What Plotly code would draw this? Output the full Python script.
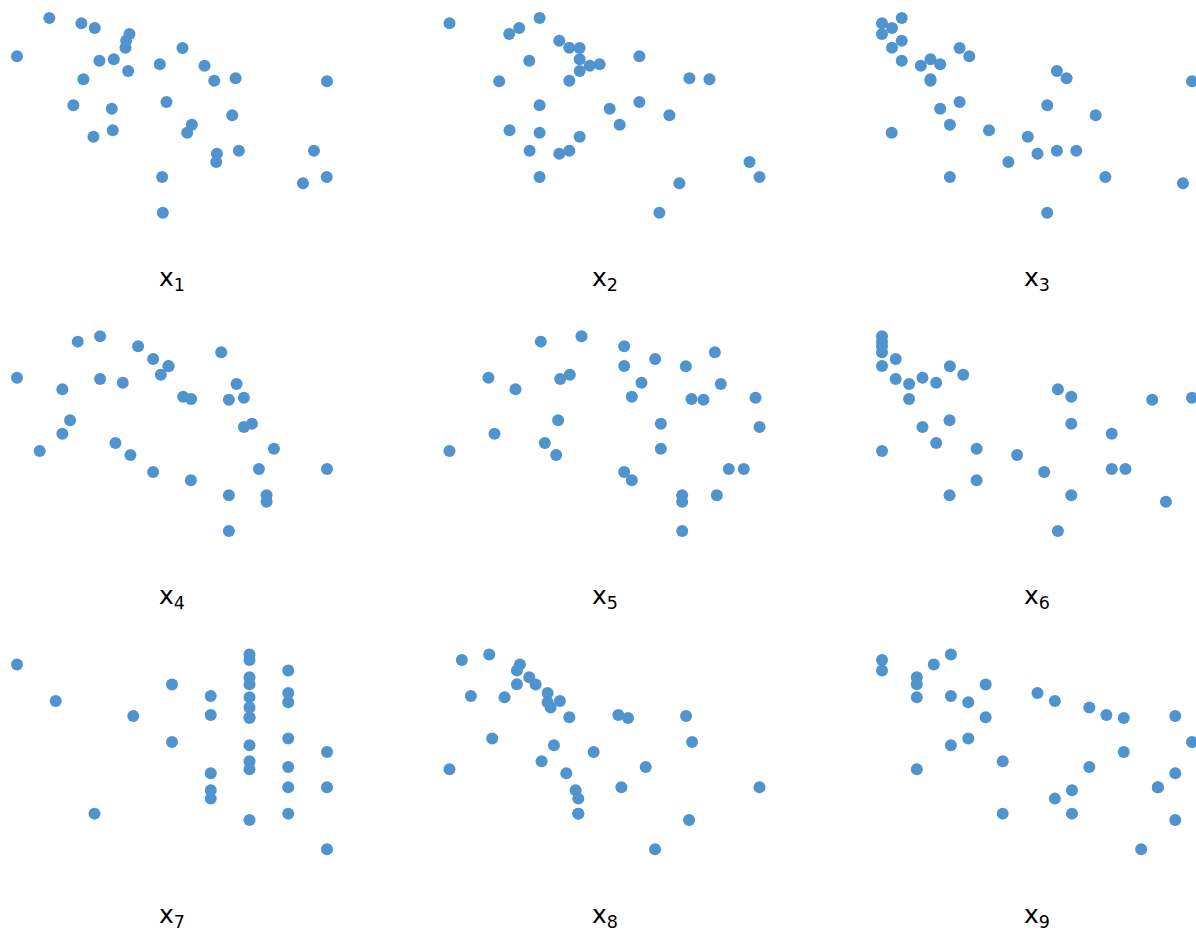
import plotly.graph_objects as go

# shared response values (one per observation)
y = [64.6, 63.0, 61.6, 59.8, 57.8, 55.7, 55.6, 53.1, 52.2, 51.8, 50.7, 50.3, 48.7,
     46.5, 46.2, 45.8, 45.6, 39.4, 38.4, 37.4, 35.4, 32.6, 30.9, 30.2, 29.0,
     24.8, 24.8, 23.9, 21.4, 16.9, 16.9, 15.0, 6.2]

x1 = [14.8, 24.4, 28.4, 38.8, 37.8, 37.6, 54.7, 5.1, 34.1, 29.8, 47.9, 61.3, 38.4,
      70.6, 25.0, 64.2, 98.0, 49.9, 22.0, 33.5, 69.6, 57.5, 33.8, 56.1, 28.0,
      71.6, 94.1, 65.0, 64.8, 48.6, 97.9, 90.8, 48.8]
x2 = [32.9, 5.9, 26.8, 23.8, 38.8, 41.8, 44.9, 62.8, 44.9, 29.8, 50.9, 47.9, 44.9,
      77.8, 83.8, 41.8, 20.8, 62.8, 32.9, 53.9, 71.8, 56.9, 23.9, 32.9, 44.9,
      29.9, 41.8, 38.8, 95.8, 32.9, 98.8, 74.8, 68.8]
x3 = [11.9, 6.0, 9.0, 6.0, 11.9, 9.0, 29.2, 32.1, 20.5, 11.9, 23.4, 17.6, 58.3,
      61.2, 20.5, 20.5, 98.7, 29.2, 55.4, 23.4, 69.9, 26.3, 38.0, 8.9, 49.6,
      58.3, 64.1, 52.5, 43.8, 26.3, 72.8, 96.0, 55.4]
x4 = [30.0, 23.3, 41.4, 66.3, 45.9, 50.5, 50.5, 48.2, 5.1, 30.0, 36.8, 70.9, 18.7,
      54.9, 73.1, 57.3, 68.6, 21.0, 75.5, 73.1, 18.7, 34.6, 82.1, 11.9, 39.1,
      77.6, 98.0, 45.9, 57.2, 68.6, 79.9, 79.9, 68.6]
x5 = [45.4, 33.2, 58.2, 85.4, 67.5, 58.2, 76.7, 41.9, 17.5, 39.0, 63.4, 87.2, 25.6,
      60.5, 97.6, 78.4, 82.0, 38.4, 69.2, 98.8, 19.3, 34.4, 69.2, 5.8, 37.8,
      89.6, 94.1, 58.2, 60.5, 75.6, 86.0, 75.6, 75.6]
x6 = [6.0, 6.0, 6.0, 6.0, 10.1, 6.0, 26.3, 30.3, 18.1, 10.1, 22.2, 14.1, 58.6,
      62.6, 98.7, 14.1, 86.8, 26.2, 62.6, 18.1, 74.7, 22.2, 34.3, 6.0, 46.4,
      74.7, 78.8, 54.5, 34.3, 26.2, 62.6, 90.9, 58.6]
x7 = [7, 7, 1, 8, 7, 7, 5, 8, 6, 7, 2, 8, 7,
      6, 4, 7, 7, 8, 5, 7, 9, 7, 8, 7, 6,
      8, 9, 6, 6, 3, 8, 7, 9]
x8 = [17.8, 9.6, 27.0, 26.1, 29.8, 26.1, 31.7, 35.3, 12.3, 22.4, 39.0, 35.3, 36.2,
      56.5, 76.8, 41.8, 59.4, 18.7, 78.6, 37.2, 49.1, 33.5, 64.7, 5.9, 40.9,
      57.4, 98.8, 43.7, 44.5, 44.5, 44.5, 77.7, 67.5]
x9 = [26.6, 6.0, 21.5, 6.0, 16.4, 16.4, 37.0, 52.5, 26.6, 16.4, 57.7, 31.8, 68.0,
      73.1, 93.7, 37.0, 78.3, 31.8, 98.7, 26.6, 78.3, 42.1, 68.0, 16.4, 93.7,
      88.5, 88.5, 62.8, 57.7, 42.1, 62.8, 93.7, 83.5]

panels = [x1, x2, x3, x4, x5, x6, x7, x8, x9]
labels = ["x<sub>1</sub>", "x<sub>2</sub>", "x<sub>3</sub>",
          "x<sub>4</sub>", "x<sub>5</sub>", "x<sub>6</sub>",
          "x<sub>7</sub>", "x<sub>8</sub>", "x<sub>9</sub>"]

W, H = 1196, 933
COLOR = "#4f94cf"

fig = go.Figure()
layout = dict(width=W, height=H, margin=dict(l=0, r=0, t=0, b=0),
              paper_bgcolor="white", plot_bgcolor="white", showlegend=False)
annotations = []

ymin, ymax = min(y), max(y)
for i, xs in enumerate(panels):
    r, c = divmod(i, 3)
    left = 17 + 432.5 * c
    right = left + 310
    top = 18 + 318.3 * r
    bottom = 212.7 + 318.3 * r
    ax = "" if i == 0 else str(i + 1)
    fig.add_trace(go.Scatter(
        x=xs, y=y, mode="markers", xaxis="x" + ax, yaxis="y" + ax,
        marker=dict(color=COLOR, size=12, line=dict(width=0)),
        cliponaxis=False, hoverinfo="x+y"))
    layout["xaxis" + ax] = dict(domain=[left / W, right / W],
                                range=[min(xs), max(xs)], visible=False,
                                anchor="y" + ax)
    layout["yaxis" + ax] = dict(domain=[1 - bottom / H, 1 - top / H],
                                range=[ymin, ymax], visible=False,
                                anchor="x" + ax)
    annotations.append(dict(
        text=labels[i], x=(left + right) / 2 / W, y=1 - (279 + 318.3 * r) / H,
        xref="paper", yref="paper", xanchor="center", yanchor="middle",
        showarrow=False,
        font=dict(family="DejaVu Sans, Arial, sans-serif", size=25,
                  color="black")))

layout["annotations"] = annotations
fig.update_layout(**layout)
fig.write_html("out.html", config={"displayModeBar": False},
               post_script="document.body.style.margin='0';"
                           "document.body.style.overflow='hidden';")
